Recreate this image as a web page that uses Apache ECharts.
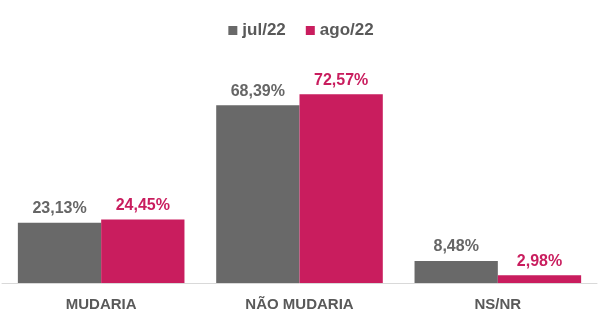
<!DOCTYPE html>
<html><head><meta charset="utf-8">
<script src="https://cdn.jsdelivr.net/npm/echarts@6/dist/echarts.min.js"></script>
<style>html,body{margin:0;padding:0;background:#fff}#c{width:602px;height:329px}</style>
</head><body><div id="c"></div>
<script>
const categories = ['MUDARIA', 'NÃO MUDARIA', 'NS/NR'];
const seriesNames = ['jul/22', 'ago/22'];
const jul22 = [23.13, 68.39, 8.48];
const ago22 = [24.45, 72.57, 2.98];

const FONT = '"Liberation Sans", Arial, sans-serif';
const GRAY = '#696969';
const PINK = '#C91D5E';
const fmt = p => p.value.toFixed(2).replace('.', ',') + '%';

const chart = echarts.init(document.getElementById('c'), null, {renderer: 'canvas'});
chart.setOption({
  animation: false,
  legend: {
    top: 17, left: 'center',
    itemWidth: 9, itemHeight: 9, itemGap: 20,
    icon: 'rect',
    textStyle: {fontFamily: FONT, fontWeight: 'bold', fontSize: 17, color: '#595959'},
    data: seriesNames
  },
  grid: {left: 2, right: 5, top: 75, bottom: 46},
  xAxis: {
    type: 'category', data: categories,
    axisLine: {lineStyle: {color: '#d9d9d9', width: 1}},
    axisTick: {show: false},
    axisLabel: {fontFamily: FONT, fontWeight: 'bold', fontSize: 15, color: '#595959', margin: 14}
  },
  yAxis: {type: 'value', min: 0, max: 80, show: false, splitLine: {show: false}},
  series: [
    {name: seriesNames[0], type: 'bar', data: jul22, barGap: '0%', barCategoryGap: '16%',
     itemStyle: {color: GRAY},
     label: {show: true, position: 'top', distance: 6, formatter: fmt,
       fontFamily: FONT, fontWeight: 'bold', fontSize: 16, color: '#666666'}},
    {name: seriesNames[1], type: 'bar', data: ago22, barGap: '0%', barCategoryGap: '16%',
     itemStyle: {color: PINK},
     label: {show: true, position: 'top', distance: 6, formatter: fmt,
       fontFamily: FONT, fontWeight: 'bold', fontSize: 16, color: PINK}}
  ]
});
</script></body></html>
